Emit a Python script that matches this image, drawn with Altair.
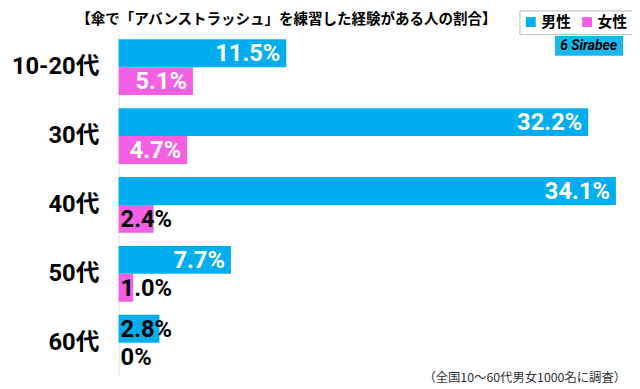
import altair as alt
import pandas as pd

ages = ["10-20代", "30代", "40代", "50代", "60代"]
male = [11.5, 32.2, 34.1, 7.7, 2.8]
female = [5.1, 4.7, 2.4, 1.0, 0.0]
genders = ["男性", "女性"]
colors = ["#00AEEF", "#F55FE3"]

title_text = "【傘で「アバンストラッシュ」を練習した経験がある人の割合】"
note_text = "（全国10～60代男女1000名に調査）"


def fmt(v):
    return "0%" if v == 0 else f"{v:.1f}%"


rows = []
for a, m, f in zip(ages, male, female):
    rows.append({"age": a, "gender": genders[0], "value": m, "label": fmt(m)})
    rows.append({"age": a, "gender": genders[1], "value": f, "label": fmt(f)})
df = pd.DataFrame(rows)

NUM_FONT = "Roboto, Noto Sans CJK JP"
CJK_FONT = "Noto Sans CJK JP"

base = alt.Chart(df).encode(
    y=alt.Y(
        "age:N",
        sort=ages,
        scale=alt.Scale(paddingInner=0.19, paddingOuter=0.075),
        axis=alt.Axis(
            title=None,
            ticks=False,
            labelFont=NUM_FONT,
            labelFontSize=24,
            labelFontWeight="bold",
            labelColor="#000000",
            labelPadding=20,
            domainColor="#dddddd",
            domainWidth=1,
        ),
    ),
    yOffset=alt.YOffset("gender:N", sort=genders,
                        scale=alt.Scale(paddingInner=0, paddingOuter=0)),
)

xscale = alt.Scale(domain=[0, 35], nice=False, zero=True)

bars = base.mark_bar().encode(
    x=alt.X("value:Q", scale=xscale, axis=None),
    color=alt.Color(
        "gender:N",
        sort=genders,
        scale=alt.Scale(domain=genders, range=colors),
        legend=alt.Legend(
            title=None,
            orient="none",
            legendX=406,
            legendY=-24,
            direction="horizontal",
            symbolType="square",
            symbolSize=100,
            symbolStrokeWidth=0,
            labelFont=CJK_FONT,
            labelFontSize=15,
            labelFontWeight="bold",
            labelColor="#000000",
            columnPadding=8,
            labelOffset=3,
            padding=4,
            strokeColor="#bbbbbb",
            fillColor="#ffffff",
        ),
    ),
)

inside = base.transform_filter("datum.value >= 4").mark_text(
    align="right", baseline="middle", dx=-6, dy=1, color="white",
    font=NUM_FONT, fontSize=24, fontWeight="bold",
).encode(x=alt.X("value:Q", scale=xscale), text="label:N")

outside = base.transform_filter("datum.value < 4").mark_text(
    align="left", baseline="middle", dx=2, dy=1, color="black",
    font=NUM_FONT, fontSize=24, fontWeight="bold",
).encode(x=alt.datum(0, scale=xscale), text="label:N")

one = alt.Data(values=[{"k": 1}])

title = alt.Chart(one).mark_text(
    text=title_text, align="center", baseline="middle",
    font=CJK_FONT, fontSize=14.7, fontWeight="bold", color="#000000",
).encode(x=alt.value(170), y=alt.value(-14))

logo_box = alt.Chart(one).mark_rect(color="#19B8EC").encode(
    x=alt.value(442), x2=alt.value(511), y=alt.value(2), y2=alt.value(22)
)
logo_text = alt.Chart(one).mark_text(
    text="6 Sirabee", align="center", baseline="middle",
    font="Roboto", fontSize=14, fontWeight="bold", fontStyle="italic", color="#000000",
).encode(x=alt.value(476), y=alt.value(12))

note = alt.Chart(one).mark_text(
    text=note_text, align="right", baseline="middle",
    font=CJK_FONT, fontSize=12.5, color="#333333",
).encode(x=alt.value(514), y=alt.value(348))

chart = alt.layer(bars, inside, outside, title, logo_box, logo_text, note).properties(
    width=517,
    height=346,
    autosize=alt.AutoSizeParams(type="none"),
    padding={"left": 112, "top": 24, "right": 3, "bottom": 15},
).configure_view(stroke=None)

chart.save("out.html", embed_options={"renderer": "svg", "actions": False})
